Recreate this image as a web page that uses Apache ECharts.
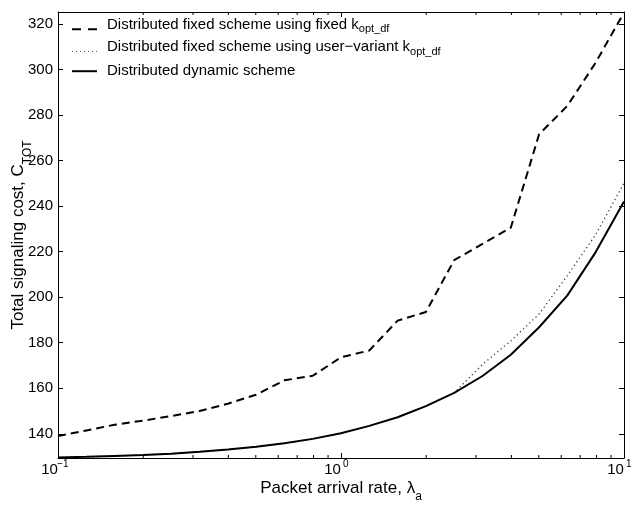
<!DOCTYPE html>
<html>
<head>
<meta charset="utf-8">
<script src="https://cdn.jsdelivr.net/npm/echarts@6/dist/echarts.min.js"></script>
<style>html,body{margin:0;padding:0;background:#fff;}#c{width:633px;height:506px;}</style>
</head>
<body>
<div id="c"></div>
<script>
// Packet arrival rate (logspace points)
const lambdaA = [0.1, 0.1259, 0.1585, 0.1995, 0.2512, 0.3162, 0.3981, 0.5012, 0.631, 0.7943, 1.0,
                 1.2589, 1.5849, 1.9953, 2.5119, 3.1623, 3.9811, 5.0119, 6.3096, 7.9433, 10.0];
const fixedK   = [139.0, 141.5, 144.0, 145.8, 147.8, 150.0, 153.2, 157.2, 163.5, 165.5, 173.6,
                  176.6, 189.7, 193.5, 216.3, 223.4, 230.5, 271.5, 284.0, 303.0, 325.0];
const variantK = [129.6, 129.9, 130.3, 130.7, 131.3, 132.1, 133.1, 134.3, 135.9, 137.8, 140.3,
                  143.5, 147.3, 152.2, 158.0, 170.5, 180.8, 192.6, 209.5, 227.5, 250.0];
const dynamic  = [129.6, 129.9, 130.3, 130.7, 131.3, 132.1, 133.1, 134.3, 135.9, 137.8, 140.3,
                  143.5, 147.3, 152.2, 158.0, 165.4, 174.7, 186.8, 200.8, 219.8, 242.0];
const minorTicks = [0.2, 0.3, 0.4, 0.5, 0.6, 0.7, 0.8, 0.9, 2, 3, 4, 5, 6, 7, 8, 9];
const yMin = 129.4, yMax = 325.2;
const legendLabels = {
  fixed: '{m|Distributed fixed scheme using fixed k}{s|opt_df}',
  variant: '{m|Distributed fixed scheme using user\u2212variant k}{s|opt_df}',
  dynamic: '{p|Distributed dynamic scheme}'
};

const FONT = 'Liberation Sans, Arial, Helvetica, sans-serif';
const chart = echarts.init(document.getElementById('c'), null, {renderer: 'canvas'});

const pair = (xs, ys) => xs.map((x, i) => [x, ys[i]]);
const legendRich = {
  m: {fontSize: 15, fontFamily: FONT, color: '#000', lineHeight: 18, verticalAlign: 'top', padding: [0, 0, 0, 5]},
  s: {fontSize: 11, fontFamily: FONT, color: '#000', lineHeight: 24, verticalAlign: 'middle'},
  p: {fontSize: 15, fontFamily: FONT, color: '#000', lineHeight: 18, verticalAlign: 'middle', padding: [0, 0, 0, 5]}
};
const icons = {
  fixed: 'path://M0,0H9V2H0Z M16,0H25V2H16Z',
  variant: 'path://M0,0H1V1H0Z M4,0H5V1H4Z M8,0H9V1H8Z M12,0H13V1H12Z M16,0H17V1H16Z M20,0H21V1H20Z M24,0H25V1H24Z',
  dynamic: 'path://M0,0H25V2H0Z'
};
function mkLegend(name, top, h) {
  return {
    data: [{name: name, icon: icons[name]}], left: 72, top: top, padding: 0, itemWidth: 25, itemHeight: h,
    selectedMode: false,
    formatter: n => legendLabels[n],
    textStyle: {fontFamily: FONT, fontSize: 15, color: '#000', rich: legendRich}
  };
}
const xLabelFmt = v => {
  const e = Math.round(Math.log10(v));
  return '{b|10}{s|' + (e < 0 ? '\u2212' + (-e) : e) + '}{g| }';
};
const titleRich = {
  m: {fontSize: 17, fontFamily: FONT, color: '#000', lineHeight: 20, verticalAlign: 'top'},
  s: {fontSize: 12, fontFamily: FONT, color: '#000', lineHeight: 35, verticalAlign: 'middle'}
};

const option = {
  animation: false,
  backgroundColor: '#fff',
  grid: {left: 58, right: 9, top: 12, bottom: 48, containLabel: false, outerBoundsMode: 'none'},
  legend: [mkLegend('fixed', 17.3, 2), mkLegend('variant', 39.5, 1), mkLegend('dynamic', 63.7, 2)],
  xAxis: [{
    type: 'log', logBase: 10, min: 0.1, max: 10, position: 'bottom',
    name: '{m|Packet arrival rate, \u03bb}{s|a}', nameLocation: 'middle', nameGap: 21.5, nameMoveOverlap: false,
    nameTextStyle: {fontFamily: FONT, color: '#000', rich: titleRich},
    axisLine: {show: true, lineStyle: {color: '#000', width: 1}},
    axisTick: {show: true, inside: true, length: 5, lineStyle: {color: '#000'}},
    axisLabel: {formatter: xLabelFmt, margin: 1, color: '#000', rich: {
      b: {fontSize: 15, fontFamily: FONT, color: '#000', lineHeight: 18, verticalAlign: 'bottom'},
      s: {fontSize: 10, fontFamily: FONT, color: '#000', lineHeight: 10, verticalAlign: 'top', width: 10, align: 'left'},
      g: {fontSize: 10, fontFamily: FONT, color: '#000', lineHeight: 10, width: 7}
    }},
    splitLine: {show: false}
  }, {
    type: 'log', logBase: 10, min: 0.1, max: 10, position: 'top',
    axisLine: {show: true, lineStyle: {color: '#000', width: 1}},
    axisTick: {show: true, inside: true, length: 5, lineStyle: {color: '#000'}},
    axisLabel: {show: false}, splitLine: {show: false}
  }],
  yAxis: [{
    type: 'value', min: yMin, max: yMax, splitNumber: 10, position: 'left',
    name: '{m|Total signaling cost, C}{s|TOT}', nameLocation: 'middle', nameRotate: 90, nameGap: 13, nameMoveOverlap: false,
    nameTextStyle: {fontFamily: FONT, color: '#000', rich: titleRich},
    axisLine: {show: true, lineStyle: {color: '#000', width: 1}},
    axisTick: {show: true, inside: true, length: 5, lineStyle: {color: '#000'}},
    axisLabel: {fontSize: 15, fontFamily: FONT, color: '#000', margin: 5, showMinLabel: false, showMaxLabel: false},
    splitLine: {show: false}
  }, {
    type: 'value', min: yMin, max: yMax, splitNumber: 10, position: 'right',
    axisLine: {show: true, lineStyle: {color: '#000', width: 1}},
    axisTick: {show: true, inside: true, length: 5, lineStyle: {color: '#000'}},
    axisLabel: {show: false}, splitLine: {show: false}
  }],
  series: [{
    name: 'variant', type: 'line', data: pair(lambdaA, variantK), showSymbol: false, symbol: 'none', z: 2,
    lineStyle: {color: '#444', width: 1.3, type: [1.3, 3]}, itemStyle: {color: '#555'}
  }, {
    name: 'fixed', type: 'line', data: pair(lambdaA, fixedK), showSymbol: false, symbol: 'none', z: 3,
    lineStyle: {color: '#000', width: 2, type: [8, 5]}, itemStyle: {color: '#000'}
  }, {
    name: 'dynamic', type: 'line', data: pair(lambdaA, dynamic), showSymbol: false, symbol: 'none', z: 4,
    lineStyle: {color: '#000', width: 2, type: 'solid'}, itemStyle: {color: '#000'}
  }, {
    type: 'custom', silent: true, clip: false, z: 5,
    data: minorTicks.map(v => [v, yMin]),
    encode: {x: 0, y: 1},
    renderItem: (params, api) => {
      const x = api.value(0);
      const b = api.coord([x, yMin]);
      const t = api.coord([x, yMax]);
      return {type: 'group', children: [
        {type: 'line', shape: {x1: b[0], y1: b[1], x2: b[0], y2: b[1] - 3}, style: {stroke: '#000', lineWidth: 1}},
        {type: 'line', shape: {x1: t[0], y1: t[1], x2: t[0], y2: t[1] + 3}, style: {stroke: '#000', lineWidth: 1}}
      ]};
    }
  }]
};
chart.setOption(option);
</script>
</body>
</html>
